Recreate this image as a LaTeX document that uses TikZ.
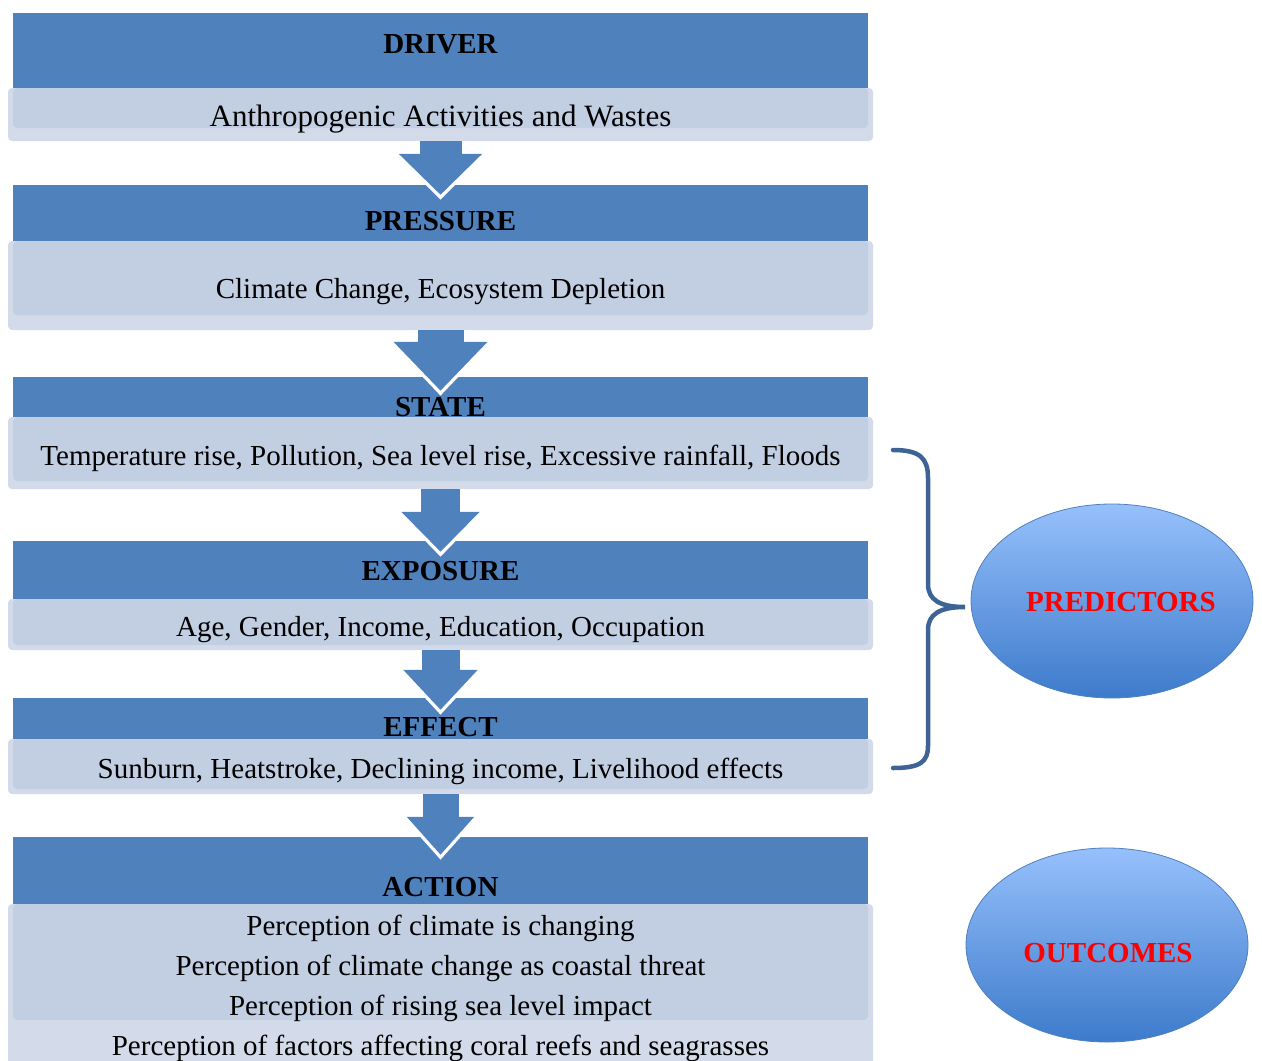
\documentclass[tikz,border=0pt]{standalone}
\usepackage{fontspec}
\setmainfont{Liberation Serif}
\usetikzlibrary{arrows.meta,shapes.geometric}

\definecolor{headblue}{HTML}{4F81BD}
\definecolor{bodyfill}{HTML}{C2CEE2}
\definecolor{bodyband}{HTML}{D3DBEA}
\definecolor{bracecol}{HTML}{3E6496}
\definecolor{balltop}{HTML}{96C0FC}
\definecolor{ballbottom}{HTML}{3D7BCB}

\begin{document}
\begin{tikzpicture}[x=1pt,y=-1pt,
  headbox/.style={fill=headblue, minimum width=855, inner sep=0},
  bodybox/.style={fill=bodyband, rounded corners=4pt, minimum width=865, inner sep=0,
    path picture={\fill[bodyfill] ([xshift=5]path picture bounding box.north west)
      rectangle ([xshift=-5,yshift=#1]path picture bounding box.south east);}},
  bodybox/.default=12,
  title/.style={anchor=base, inner sep=0, font=\fontsize{29}{35}\selectfont\bfseries},
  line/.style={anchor=base, inner sep=0, font=\fontsize{29}{35}\selectfont},
  ball/.style={ellipse, minimum width=282, minimum height=194, draw=headblue, thick,
    top color=balltop, bottom color=ballbottom},
  balltext/.style={title, text=red}]

\useasboundingbox (0,0) rectangle (1262,1061);

% header bars
\node[headbox, minimum height=75] (driverhead)   at (440.5,50.5)  {};
\node[headbox, minimum height=56] (pressurehead) at (440.5,213)   {};
\node[headbox, minimum height=40] (statehead)    at (440.5,397)   {};
\node[headbox, minimum height=58] (exposurehead) at (440.5,570)   {};
\node[headbox, minimum height=41] (effecthead)   at (440.5,718.5) {};
\node[headbox, minimum height=67] (actionhead)   at (440.5,870.5) {};

% light boxes
\node[bodybox=13, minimum height=53]  (driverbody)   at (440.5,114.5) {};
\node[bodybox=15, minimum height=89]  (pressurebody) at (440.5,285.5) {};
\node[bodybox=8,  minimum height=72]  (statebody)    at (440.5,453)   {};
\node[bodybox=5,  minimum height=51]  (exposurebody) at (440.5,624.5) {};
\node[bodybox=5,  minimum height=55]  (effectbody)   at (440.5,766.5) {};
\node[bodybox=55, minimum height=171] (actionbody)   at (440.5,989.5) {};

% arrows between the stages
\foreach \from/\to/\shaft/\head/\len/\tip in {driverbody/pressurehead/42/81/41/10,
    pressurebody/statehead/46/91/49/14, statebody/exposurehead/39/76/40/11,
    exposurebody/effecthead/38/72/40/12, effectbody/actionhead/36/65/38/18}{
  \pgfmathsetmacro\wshaft{\shaft+8}
  \pgfmathsetmacro\whead{\head+12}
  \pgfmathsetmacro\wlen{\len+7}
  \draw[white, line width=\wshaft pt, -{Triangle[width=\whead pt, length=\wlen pt]}]
    (\from.south) -- ([yshift=-\tip-5]\to.north);
  \draw[headblue, line width=\shaft pt, -{Triangle[width=\head pt, length=\len pt]}]
    (\from.south) -- ([yshift=-\tip]\to.north);
}

% titles and texts
\node[title] (drivertitle)   at (440.5,53)  {DRIVER};
\node[title] (pressuretitle) at (440.5,230) {PRESSURE};
\node[title] (statetitle)    at (440.5,416) {STATE};
\node[title] (exposuretitle) at (440.5,580) {EXPOSURE};
\node[title] (effecttitle)   at (440.5,736) {EFFECT};
\node[title] (actiontitle)   at (440.5,896) {ACTION};

\node[line, font=\fontsize{31}{37}\selectfont] (drivertext) at (440.5,126) {Anthropogenic Activities and Wastes};
\node[line] (pressuretext) at (440.5,298) {Climate Change, Ecosystem Depletion};
\node[line] (statetext)    at (440.5,465) {Temperature rise, Pollution, Sea level rise, Excessive rainfall, Floods};
\node[line] (exposuretext) at (440.5,636) {Age, Gender, Income, Education, Occupation};
\node[line] (effecttext)   at (440.5,778) {Sunburn, Heatstroke, Declining income, Livelihood effects};
\foreach \txt [count=\i] in {Perception of climate is changing,
    Perception of climate change as coastal threat,
    Perception of rising sea level impact,
    Perception of factors affecting coral reefs and seagrasses}
  \node[line] (actionline\i) at (440.5,895+40*\i) {\txt};

% brace
\draw[bracecol, line width=4.5, line cap=round]
  (893,450) .. controls (920,450) and (928,458) .. (928,478) -- (928,584)
  .. controls (928,600) and (940,607) .. (965,607)
  .. controls (940,607) and (928,614) .. (928,630) -- (928,746)
  .. controls (928,762) and (920,768) .. (893,768);

% ellipses
\node[ball] (predictors) at (1112,601) {};
\node[ball] (outcomes)   at (1107,945) {};
\node[balltext] (predictorstext) at (1121,611) {PREDICTORS};
\node[balltext] (outcomestext)   at (1108,962) {OUTCOMES};
\end{tikzpicture}
\end{document}
